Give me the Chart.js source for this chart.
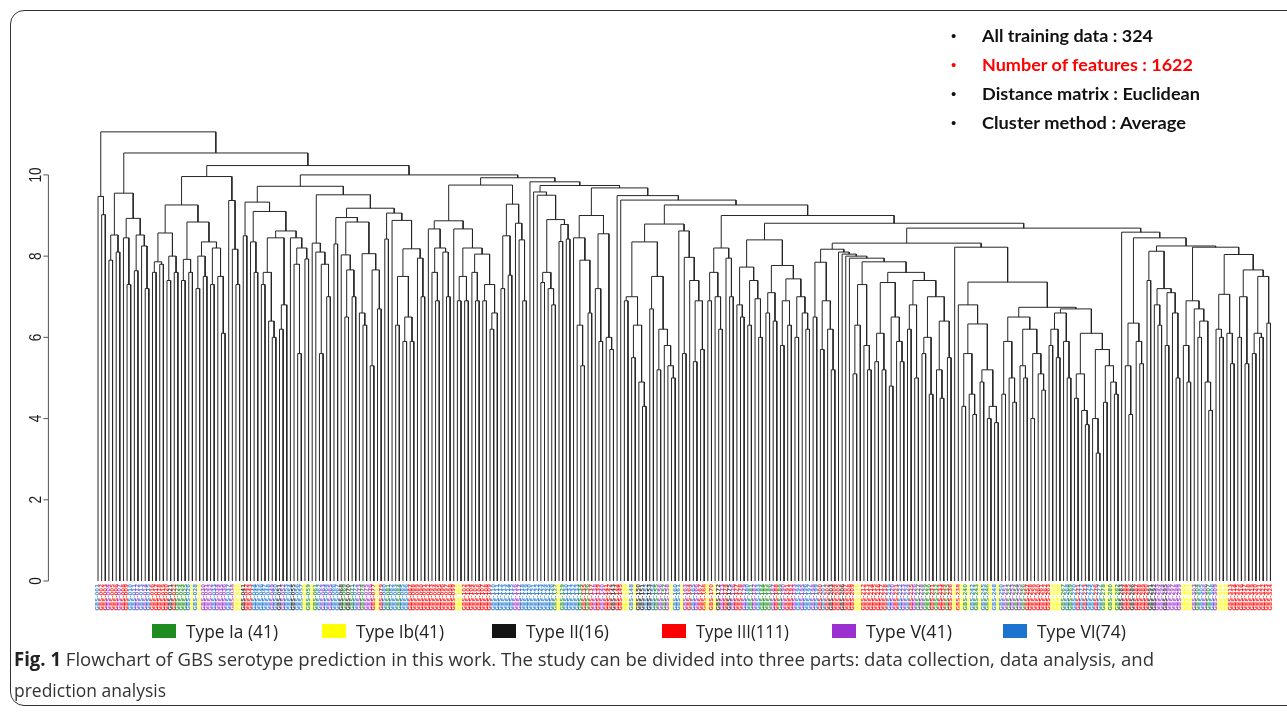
<!DOCTYPE html>
<html>
<head>
<meta charset="utf-8">
<script src="https://cdn.jsdelivr.net/npm/chart.js@4.4.1/dist/chart.umd.min.js"></script>
<style>
  html, body { margin: 0; padding: 0; background: #fff; }
  body { width: 1287px; height: 713px; position: relative; overflow: hidden; }
  #frame { position: absolute; left: 10px; top: 10px; width: 1300px; height: 696px;
           border: 1.5px solid #333; border-radius: 14px; box-sizing: border-box; }
  #wrap { position: absolute; left: 0; top: 0; width: 1287px; height: 713px; }
  .fit { position: absolute; white-space: nowrap; transform-origin: left center; display: inline-block; }
  .note { font-family: Lato, "Open Sans", sans-serif; font-weight: 700; font-size: 17px; color: #111; line-height: 20px; }
  .bullet { position: absolute; font-family: "Liberation Sans", sans-serif; font-size: 15px; line-height: 20px; }
  .lg { font-family: "Open Sans", sans-serif; font-size: 18px; color: #222; line-height: 22px; }
  .sw { position: absolute; width: 24px; height: 14px; }
  .cap { font-family: "Open Sans", sans-serif; font-size: 19px; color: #333; line-height: 24px; }
  .cap b { color: #222; }
</style>
</head>
<body>
<div id="frame"></div>
<div id="wrap"><canvas id="chart"></canvas></div>
<div id="overlay"></div>
<script>
// leaf classes, left to right (a=Ia, b=Ib, 2=II, 3=III, 5=V, 6=VI)
const LEAF_TYPES = [
  "6", "33533533", "665656", "3333323", "aaa6", "b6b", "555655565", "bb", "233",
  "66666", "5625", "66266", "baba6", "56566", "2a2a6", "5a55", "3b36", "a66a66",
  "3333333333333", "bb", "33333333", "666666", "556", "66666666", "aba6", "666",
  "a3a3", "5353", "3233", "bb6b", "22626", "a5a5", "b66b", "53653", "3b3b",
  "2532533", "56a56aa", "a53a533", "565665", "6363", "2332333", "bb", "333333",
  "36536563", "5a5a", "a3a33a", "3b3b", "ab6ab6a", "b6b6", "5a5a5a", "3333333",
  "bbb", "a6a", "63636636", "ababa", "233233332", "25525555", "bbb", "5a65a65",
  "bbb", "333333333333"
].join("");

const TYPE_CODES = ["a", "b", "2", "3", "5", "6"];
const TYPE_NAMES = ["Type Ia (41)", "Type Ib(41)", "Type II(16)", "Type III(111)", "Type V(41)", "Type VI(74)"];
const TYPE_COLORS = ["#1e8c1e", "#ffff00", "#141414", "#ff0000", "#9b30d0", "#1c74d0"];

const Y_TICKS = [0, 2, 4, 6, 8, 10];

const NOTES = ["All training data : 324", "Number of features : 1622", "Distance matrix : Euclidean", "Cluster method : Average"];
const CAPTION_1 = "Flowchart of GBS serotype prediction in this work. The study can be divided into three parts: data collection, data analysis, and";
const CAPTION_2 = "prediction analysis";

// dendrogram, nested pairs "(left,right)height", x = one sample
const A_ = "(x,(x,x)9.02)9.47";
const D_ = "(((x,x)7.9,(x,x)8.1)8.52,((x,(x,x)7.3)8.45,((x,x)7.64,(x,(x,x)7.2)8.25)8.52)8.93)9.55";
const F_ = "((((x,x)7.6,(x,x)7.8)7.86,((x,x)7.4,(x,x)7.6)8.0)8.57,(((x,x)7.4,(x,x)7.6)7.92,(((x,x)7.2,(x,x)7.5)8.0,((x,x)7.3,(x,(x,x)6.1)7.5)8.2)8.35)8.84)9.26";
const G_ = "(x,(x,(x,x)7.3)8.17)9.37";
const J_ = "((x,x)8.5,((x,(x,x)7.6)8.35,((((x,x)7.3,(x,(x,x)6.0)6.4)7.6,((x,x)6.2,x)6.8)8.45,(x,((x,(x,x)5.6)7.8,(x,x)7.93)8.2)8.45)8.62)9.1)9.33";
const K_ = "((x,(x,((x,x)5.6,(x,x)7.0)7.8)8.1)8.32,(((x,x)8.3,((x,((x,x)6.5,(x,x)7.0)7.66)8.03,((x,(x,x)6.3)6.6,((x,x)5.3,(x,x)6.7)7.66)8.06)8.84)8.95,((x,x)8.42,(x,(((x,x)6.3,((x,x)5.9,(x,x)5.9)6.5)7.5,(x,(x,x)7.0)7.95)8.18)8.88)9.06)9.18)9.51";
const N_ = "((x,((x,(x,x)6.9)7.6,(x,(x,x)7.0)8.1)8.2)8.67,(x,(((x,x)6.9,(x,x)6.9)7.5,((x,(x,x)6.9)7.6,((x,x)6.9,((x,x)6.2,x)6.6)7.3)8.05)8.2)8.67)8.87";
const O_ = "(((x,x)7.2,(x,x)7.53)8.5,(x,(x,(x,x)6.9)8.4)8.81)9.28";
const R_ = "(x,(x,(((x,x)7.35,(x,(x,x)6.8)7.2)7.6,((x,x)8.36,(x,x)8.42)8.78)8.9)9.5)9.58";
const TL_ = "((x,((x,(x,x)5.3)6.3,(x,x)6.6)7.9)8.45,((x,(x,x)5.9)7.2,(x,(x,x)5.7)6.0)8.55)9.0";
const X1_ = "((((x,x)6.9,((x,x)5.5,(x,(x,x)4.3)4.9)6.3)7.0,((x,x)6.7,((x,x)5.2,(x,(x,(x,x)5.0)5.3)5.8)6.2)7.5)8.35,(x,((x,x)5.6,(x,((x,x)5.4,(x,x)5.7)6.9)7.4)7.97)8.62)8.79";
const Y1L_ = "(((x,x)6.9,(x,(x,x)6.2)7.0)7.6,(x,(x,x)7.0)7.95)8.2";
const Z1L_ = "(((x,(x,x)6.5)6.8,((x,x)6.3,(x,(x,x)6.0)6.95)7.4)7.73,(((x,x)6.6,(x,x)6.4)7.1,(((x,x)5.8,(x,x)6.3)6.9,((x,x)6.0,(x,(x,x)6.2)6.6)7.0)7.44)7.77)8.4";
const BL1_ = "((x,x)6.5,((x,x)5.7,(x,(x,x)5.2)6.2)6.9)7.85";
const BL3_ = "((((x,x)5.1,x)6.3,(x,(x,x)5.2)5.8)7.3,((((x,x)5.4,(x,x)5.2)6.1,((x,x)4.8,(x,(x,x)5.4)5.9)6.5)7.35,(((x,x)6.2,(x,x)5.0)6.8,(((x,x)5.6,(x,x)4.6)6.0,((x,(x,x)4.5)5.2,(x,x)5.5)6.4)7.0)7.4)7.6)7.86";
const Q1_ = "(((x,x)4.6,(x,(x,x)4.4)5.0)5.9,((x,(x,x)5.0)5.3,((x,x)4.0,(x,(x,x)4.7)5.1)5.6)6.2)6.5";
const Q2_ = "((((x,x)5.8,(x,x)5.5)6.2,(x,(x,x)5.0)5.9)6.6,(((x,x)4.5,(x,(x,x)3.85)4.2)5.1,((x,(x,x)3.15)4.0,((x,x)4.4,(x,(x,x)4.6)4.9)5.3)5.7)6.1)6.7";
const C2_ = `(x,((x,(((x,x)4.3,(x,(x,x)4.1)4.6)5.6,((x,x)4.9,((x,x)4.0,(x,x)3.9)4.3)5.2)6.33)6.8,(${Q1_},${Q2_})6.74)7.36)8.22`;
const D2_ = "(x,(((x,(x,x)4.1)5.3,(x,(x,x)5.35)5.9)6.35,(((x,x)7.4,((x,(x,x)6.3)6.8,((x,x)5.8,(x,(x,x)5.0)6.6)7.1)7.2)8.12,(((x,(x,x)4.9)5.8,(x,((x,x)6.0,(x,(x,x)4.2)4.9)6.4)6.7)6.9,(((x,(x,x)6.0)6.2,(x,(x,x)5.35)6.1)7.06,(((x,x)6.0,(x,x)5.35)7.0,(((x,x)5.6,(x,x)6.0)6.1,(x,x)6.35)7.5)7.66)8.04)8.22)8.25)8.45)8.59";

const B2_ = `((${BL1_},(x,(x,(x,(x,${BL3_})7.95)8.0)8.05)8.1)8.17,${C2_})8.32`;
const Z1_ = `(${Z1L_},(${B2_},${D2_})8.69)8.81`;
const W_ = `(${X1_},(${Y1L_},${Z1_})9.0)9.26`;
const Q_ = `(${R_},(${TL_},(x,(x,${W_})9.38)9.49)9.68)9.74`;
const H_ = `((${J_},${K_})9.72,((${N_},${O_})9.75,(x,${Q_})9.83)9.93)10.0`;
const TREE = `(${A_},(${D_},((${F_},${G_})9.96,${H_})10.23)10.54)11.06`;

function parseTree(src) {
  const s = src.replace(/\s+/g, "");
  let p = 0;
  function num() {
    const m = /^[0-9.]+/.exec(s.slice(p));
    p += m[0].length;
    return parseFloat(m[0]);
  }
  function node() {
    if (s[p] === "x") { p++; return { leaf: true, h: 0 }; }
    if (s[p] !== "(") throw new Error("tree: '(' expected at " + p);
    p++;
    const a = node();
    if (s[p] !== ",") throw new Error("tree: ',' expected at " + p);
    p++;
    const b = node();
    if (s[p] !== ")") throw new Error("tree: ')' expected at " + p);
    p++;
    return { kids: [a, b], h: num() };
  }
  return node();
}

const root = parseTree(TREE);
let nLeaves = 0;
(function place(n) {
  if (n.leaf) { n.x = nLeaves++; return; }
  n.kids.forEach(place);
  n.x = (n.kids[0].x + n.kids[1].x) / 2;
})(root);
if (nLeaves !== LEAF_TYPES.length) console.warn("leaves", nLeaves, "types", LEAF_TYPES.length);

// one U-shaped link per merge, broken by null points
const links = [];
(function walk(n) {
  if (n.leaf) return;
  const [a, b] = n.kids;
  links.push({ x: a.x, y: a.h }, { x: a.x, y: n.h }, { x: b.x, y: n.h }, { x: b.x, y: b.h }, { x: b.x, y: null });
  n.kids.forEach(walk);
})(root);

const rAxis = {
  id: "rAxis",
  afterDraw(chart) {
    const { ctx, scales: { y }, chartArea } = chart;
    const ax = chartArea.left - 46;
    ctx.save();
    ctx.strokeStyle = "#555";
    ctx.lineWidth = 1;
    ctx.beginPath();
    ctx.moveTo(ax, y.getPixelForValue(Y_TICKS[0]));
    ctx.lineTo(ax, y.getPixelForValue(Y_TICKS[Y_TICKS.length - 1]));
    Y_TICKS.forEach((t) => {
      const py = y.getPixelForValue(t);
      ctx.moveTo(ax - 5, py);
      ctx.lineTo(ax, py);
    });
    ctx.stroke();
    ctx.fillStyle = "#1a1a1a";
    ctx.font = '16px "Liberation Sans", Arial, sans-serif';
    ctx.textAlign = "center";
    ctx.textBaseline = "middle";
    Y_TICKS.forEach((t) => {
      ctx.save();
      ctx.translate(ax - 12, y.getPixelForValue(t));
      ctx.rotate(-Math.PI / 2);
      ctx.scale(0.85, 1);
      ctx.fillText(String(t), 0, 0);
      ctx.restore();
    });
    ctx.restore();
  },
};

const leafLabels = {
  id: "leafLabels",
  afterDraw(chart) {
    const { ctx, scales: { x, y } } = chart;
    const top = y.getPixelForValue(0) + 3;
    ctx.save();
    ctx.font = 'bold 5.5px "DejaVu Sans", sans-serif';
    ctx.textAlign = "right";
    ctx.textBaseline = "middle";
    ctx.globalAlpha = 0.8;
    for (let i = 0; i < nLeaves; i++) {
      const k = Math.max(0, TYPE_CODES.indexOf(LEAF_TYPES[i]));
      ctx.fillStyle = TYPE_COLORS[k];
      ctx.save();
      ctx.translate(x.getPixelForValue(i), top);
      ctx.rotate(-Math.PI / 2);
      ctx.fillText("GBS-" + String(i + 1).padStart(3, "0"), 0, 0);
      ctx.restore();
    }
    ctx.restore();
  },
};

new Chart(document.getElementById("chart"), {
  type: "line",
  data: {
    datasets: [{
      data: links,
      borderColor: "#262626",
      borderWidth: 1,
      pointRadius: 0,
      spanGaps: false,
      tension: 0,
    }],
  },
  options: {
    responsive: true,
    maintainAspectRatio: false,
    animation: false,
    events: [],
    layout: { padding: { left: 94.4, right: 12.9, top: 114, bottom: 132 } },
    plugins: { legend: { display: false }, tooltip: { enabled: false } },
    scales: {
      x: { type: "linear", min: -1, max: nLeaves, display: false },
      y: { type: "linear", min: 0, max: 11.5, display: false },
    },
  },
  plugins: [rAxis, leafLabels],
});

// text around the plot
const overlay = document.getElementById("overlay");
function addText(html, cls, left, cy, width, lh) {
  const el = document.createElement("span");
  el.className = "fit " + cls;
  el.innerHTML = html;
  el.style.left = left + "px";
  el.style.top = (cy - lh / 2) + "px";
  overlay.appendChild(el);
  const w = el.getBoundingClientRect().width;
  if (width && w) el.style.transform = `scaleX(${width / w})`;
  return el;
}

const noteY = [36, 64.5, 93.5, 123];
const noteW = [171, 211, 218, 204];
NOTES.forEach((t, i) => {
  const b = document.createElement("span");
  b.className = "bullet";
  b.textContent = "\u2022";
  b.style.left = "951px";
  b.style.top = (noteY[i] - 10) + "px";
  b.style.color = i === 1 ? "#ff0000" : "#111";
  overlay.appendChild(b);
  const el = addText(t, "note", 982, noteY[i], noteW[i], 20);
  if (i === 1) el.style.color = "#ff0000";
});

const lgX = [152, 322, 492, 662, 832, 1003];
const lgW = [92, 88, 83, 93, 86, 89];
TYPE_NAMES.forEach((t, i) => {
  const sw = document.createElement("div");
  sw.className = "sw";
  sw.style.left = lgX[i] + "px";
  sw.style.top = "624px";
  sw.style.background = TYPE_COLORS[i];
  overlay.appendChild(sw);
  addText(t, "lg", lgX[i] + 34, 631, lgW[i], 22);
});

addText("<b>Fig. 1</b> " + CAPTION_1, "cap", 14, 659, 1140, 24);
addText(CAPTION_2, "cap", 14, 690, 152, 24);
</script>
</body>
</html>
